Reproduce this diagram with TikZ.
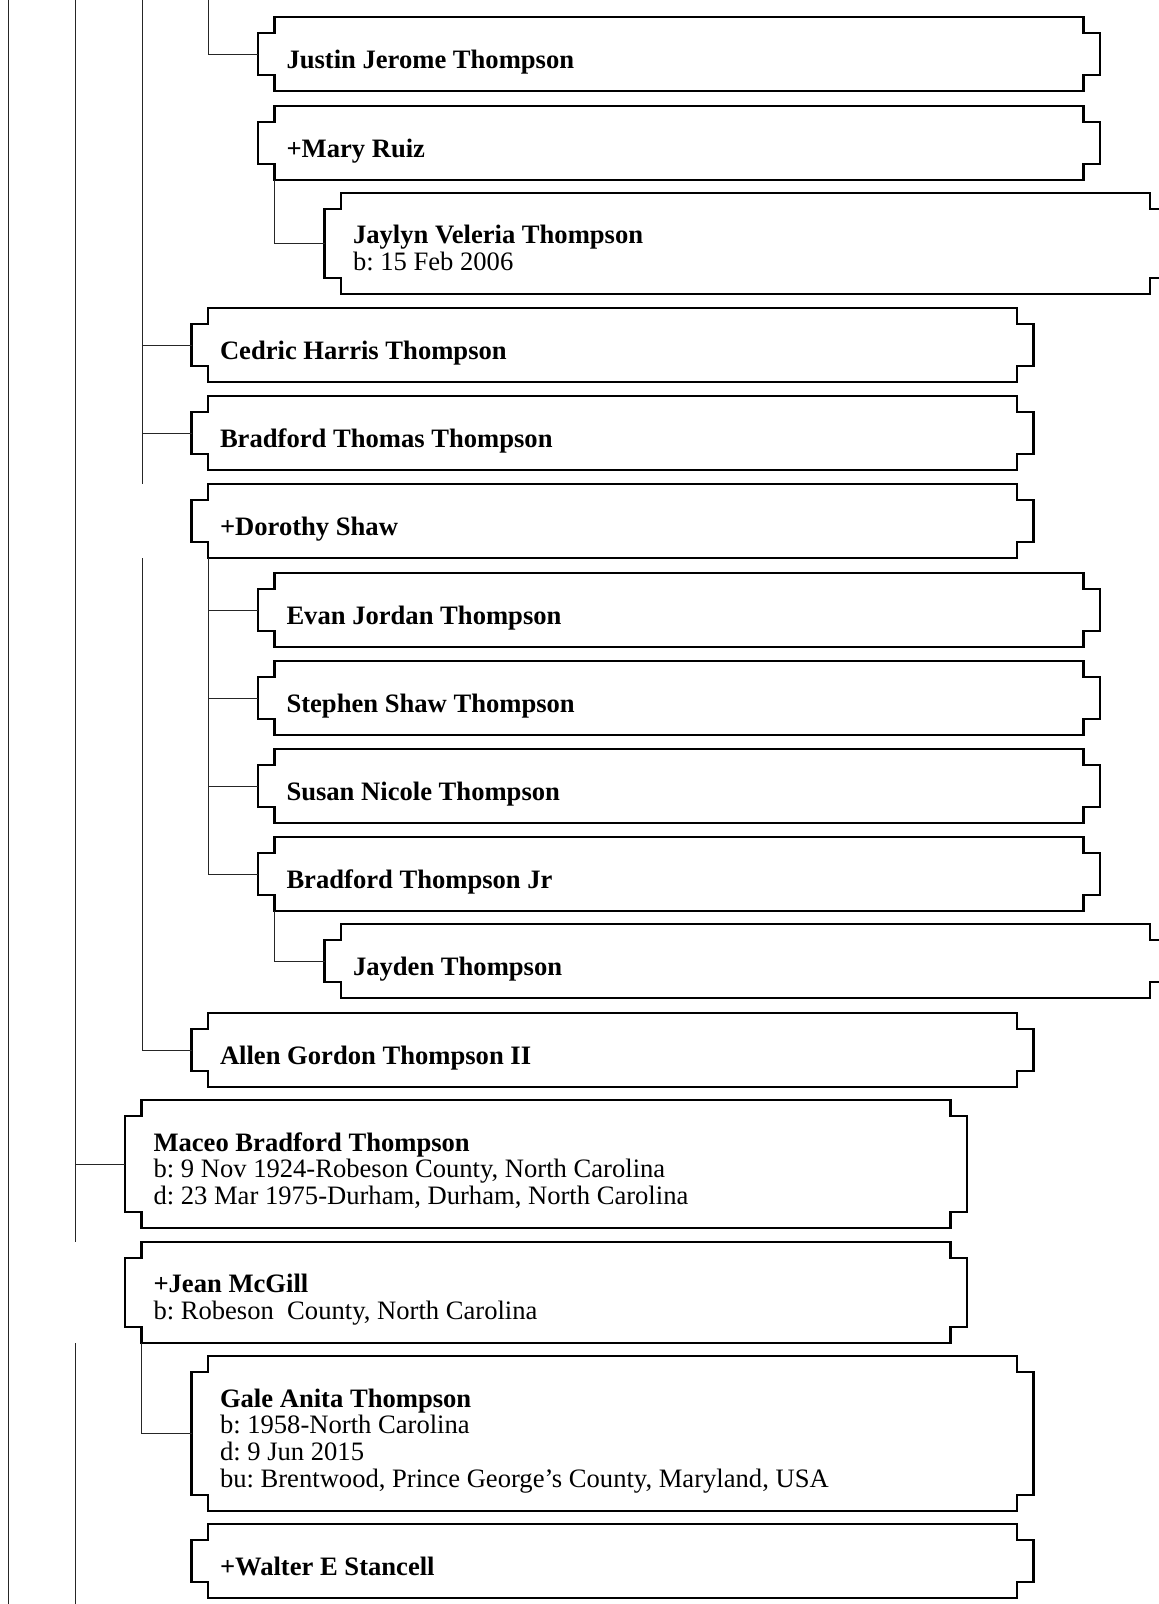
\documentclass[tikz,border=0pt]{standalone}
\usepackage{fontspec}
\setmainfont{Liberation Serif}
\usetikzlibrary{calc}
\tikzset{
  boxbody/.style={rectangle, draw=none, inner sep=0pt, outer sep=0pt, minimum width=842pt},
  boxline/.style={draw=black, line width=2.3pt, line join=miter},
  conn/.style={draw=black!85, line width=1pt},
  persontext/.style={inner sep=0pt, outer sep=0pt, font=\fontsize{26.6pt}{26.8pt}\selectfont\frenchspacing}
}
\newcommand\famperson[6]{%
  \node[boxbody, minimum height=#4pt, anchor=north west] (#1) at (#2,#3) {};
  \draw[boxline] ([xshift=16.5pt]#1.north west) -- ([xshift=-16.5pt]#1.north east)
    -- ++(0,16) -- ++(16.5,0) -- ([yshift=16pt]#1.south east) -- ++(-16.5,0)
    -- ([xshift=-16.5pt]#1.south east) -- ([xshift=16.5pt]#1.south west)
    -- ++(0,-16) -- ++(-16.5,0) -- ([yshift=-16pt]#1.north west) -- ++(16.5,0) -- cycle;
  \node[persontext, anchor=base west] (#1-t) at ($(#1.west)+(28.5,#5)$)
    {\begin{tabular}[t]{@{}l@{}}#6\end{tabular}};
}
\begin{document}
\begin{tikzpicture}[x=1pt, y=-1pt]
\useasboundingbox (0,0) rectangle (1159,1604);
\begin{scope}
\clip (0,0) rectangle (1159,1604);
% people
\famperson{justin}{258}{17}{74}{14}{\textbf{Justin Jerome Thompson}}
\famperson{mary}{258}{106}{74}{14}{\textbf{+Mary Ruiz}}
\famperson{jaylyn}{324.5}{193}{101}{0}{\textbf{Jaylyn Veleria Thompson}\\b: 15 Feb 2006}
\famperson{cedric}{191.5}{308}{74}{14}{\textbf{Cedric Harris Thompson}}
\famperson{bradthomas}{191.5}{396}{74}{14}{\textbf{Bradford Thomas Thompson}}
\famperson{dorothy}{191.5}{484}{74}{14}{\textbf{+Dorothy Shaw}}
\famperson{evan}{258}{573}{74}{14}{\textbf{Evan Jordan Thompson}}
\famperson{stephen}{258}{661}{74}{14}{\textbf{Stephen Shaw Thompson}}
\famperson{susan}{258}{749}{74}{14}{\textbf{Susan Nicole Thompson}}
\famperson{bradjr}{258}{837}{74}{14}{\textbf{Bradford Thompson Jr}}
\famperson{jayden}{324.5}{924}{74}{14}{\textbf{Jayden Thompson}}
\famperson{allen}{191.5}{1013}{74}{14}{\textbf{Allen Gordon Thompson II}}
\famperson{maceo}{125}{1100}{128}{-13}{\textbf{Maceo Bradford Thompson}\\b: 9 Nov 1924-Robeson County, North Carolina\\d: 23 Mar 1975-Durham, Durham, North Carolina}
\famperson{jean}{125}{1242}{101}{0}{\textbf{+Jean McGill}\\b: Robeson\ \ County, North Carolina}
\famperson{gale}{191.5}{1356}{155}{-26.5}{\textbf{Gale Anita Thompson}\\b: 1958-North Carolina\\d: 9 Jun 2015\\bu: Brentwood, Prince George's County, Maryland, USA}
\famperson{walter}{191.5}{1524}{74}{14}{\textbf{+Walter E Stancell}}
% free ends of the trunk lines
\coordinate (t8top) at (8,0);
\coordinate (t8bot) at (8,1604);
\coordinate (t75top) at (75,0);
\coordinate (t75bot) at (75,1604);
\coordinate (t142top) at (142,0);
\coordinate (t208top) at (208,0);
% connectors
\draw[conn] (t8top) -- (t8bot);
\draw[conn] (t75top) |- (maceo.west);
\draw[conn] (t75top) -- (t75top |- jean.north);
\draw[conn] (t75top |- jean.south) -- (t75bot);
\draw[conn] (t142top) -- (t142top |- dorothy.north);
\draw[conn] (t142top) |- (cedric.west);
\draw[conn] (t142top) |- (bradthomas.west);
\draw[conn] (t142top |- dorothy.south) |- (allen.west);
\draw[conn] (t208top) |- (justin.west);
\draw[conn] ([xshift=16.5pt]mary.south west) |- (jaylyn.west);
\draw[conn] ([xshift=16.5pt]dorothy.south west) |- (evan.west);
\draw[conn] ([xshift=16.5pt]dorothy.south west) |- (stephen.west);
\draw[conn] ([xshift=16.5pt]dorothy.south west) |- (susan.west);
\draw[conn] ([xshift=16.5pt]dorothy.south west) |- (bradjr.west);
\draw[conn] ([xshift=16.5pt]bradjr.south west) |- (jayden.west);
\draw[conn] ([xshift=16.5pt]jean.south west) |- (gale.west);
\end{scope}
\end{tikzpicture}
\end{document}
